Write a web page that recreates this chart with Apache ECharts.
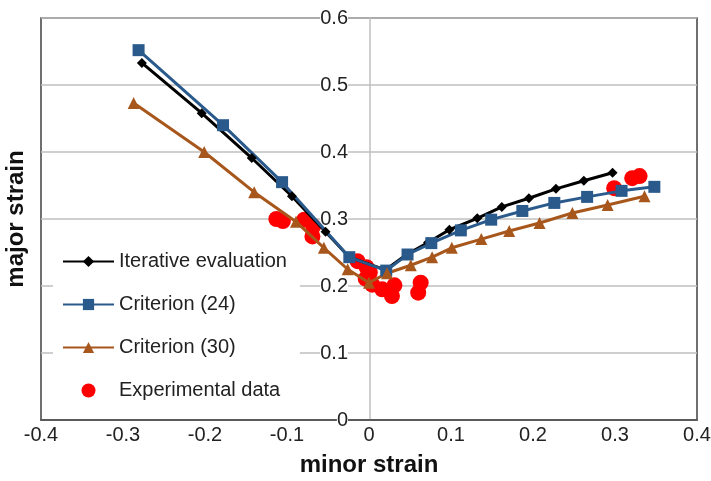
<!DOCTYPE html>
<html>
<head>
<meta charset="utf-8">
<script src="https://cdn.jsdelivr.net/npm/echarts@6/dist/echarts.min.js"></script>
<style>
  html, body { margin: 0; padding: 0; background: #fff; }
  #chart { width: 711px; height: 481px; }
</style>
</head>
<body>
<div id="chart"></div>
<script>
// minor strain / major strain pairs
var iterative = [
  [-0.277, 0.533], [-0.204, 0.458], [-0.143, 0.391], [-0.094, 0.334],
  [-0.053, 0.281], [-0.024, 0.243], [0.020, 0.224], [0.046, 0.247],
  [0.072, 0.265], [0.098, 0.284], [0.132, 0.301], [0.162, 0.318],
  [0.195, 0.331], [0.228, 0.345], [0.262, 0.357], [0.297, 0.369]
];
var criterion24 = [
  [-0.281, 0.552], [-0.178, 0.440], [-0.106, 0.355], [-0.024, 0.243],
  [0.021, 0.223], [0.047, 0.247], [0.076, 0.264], [0.112, 0.283],
  [0.149, 0.299], [0.187, 0.312], [0.226, 0.324], [0.266, 0.333],
  [0.308, 0.342], [0.348, 0.348]
];
var criterion30 = [
  [-0.287, 0.473], [-0.201, 0.400], [-0.140, 0.340], [-0.089, 0.296],
  [-0.055, 0.257], [-0.026, 0.225], [0.000, 0.205], [0.022, 0.219],
  [0.051, 0.231], [0.077, 0.243], [0.101, 0.257], [0.137, 0.270],
  [0.171, 0.282], [0.208, 0.294], [0.248, 0.309], [0.291, 0.321],
  [0.336, 0.334]
];
var experimental = [
  [-0.113, 0.300], [-0.105, 0.297], [-0.079, 0.299], [-0.068, 0.289],
  [-0.069, 0.274], [-0.014, 0.237], [-0.003, 0.228], [0.001, 0.220],
  [-0.004, 0.211], [0.004, 0.202], [0.016, 0.195], [0.031, 0.201],
  [0.028, 0.185], [0.063, 0.205], [0.060, 0.190], [0.299, 0.346],
  [0.321, 0.361], [0.330, 0.364]
];

var font = 'Liberation Sans, Arial, Helvetica, sans-serif';
var chart = echarts.init(document.getElementById('chart'));

function fmt(v) { return v === 0 ? '0' : v.toFixed(1); }

var option = {
  animation: false,
  textStyle: { fontFamily: font },
  grid: {
    left: 41, right: 14, top: 18, bottom: 61,
    containLabel: false,
    outerBoundsMode: 'none',
    show: true, borderColor: '#404040', borderWidth: 1.5, backgroundColor: '#fff'
  },
  legend: {
    orient: 'vertical',
    left: 53, top: 238,
    backgroundColor: '#fff',
    padding: [12, 13, 12, 9],
    itemGap: 20,
    itemWidth: 51,
    itemHeight: 14,
    textStyle: { fontSize: 20, color: '#222', fontFamily: font, lineHeight: 23 },
    data: ['Iterative evaluation', 'Criterion (24)', 'Criterion (30)', 'Experimental data']
  },
  xAxis: {
    type: 'value',
    min: -0.4, max: 0.4, interval: 0.1,
    name: 'minor strain',
    nameLocation: 'middle',
    nameGap: 33,
    nameTextStyle: { fontSize: 24, fontWeight: 'bold', color: '#111' },
    axisLine: { onZero: false, lineStyle: { color: '#404040', width: 1.5 } },
    axisTick: { show: false },
    splitLine: { show: false },
    axisLabel: { fontSize: 20, color: '#222', margin: 5, formatter: fmt }
  },
  yAxis: {
    type: 'value',
    min: 0, max: 0.6, interval: 0.1,
    position: 'left',
    offset: -329,
    name: 'major strain',
    nameLocation: 'middle',
    nameGap: 342,
    nameTextStyle: { fontSize: 24, fontWeight: 'bold', color: '#111' },
    axisLine: { show: true, onZero: false, lineStyle: { color: '#bfbfbf', width: 1.5 } },
    axisTick: { show: false },
    splitLine: { lineStyle: { color: '#bfbfbf', width: 1.5 } },
    axisLabel: {
      fontSize: 20, color: '#222', margin: 22,
      backgroundColor: '#fff',
      formatter: fmt
    }
  },
  series: [
    {
      name: 'Iterative evaluation',
      type: 'line',
      data: iterative,
      symbol: 'diamond',
      symbolSize: 10,
      lineStyle: { color: '#000', width: 3 },
      itemStyle: { color: '#000' }
    },
    {
      name: 'Criterion (24)',
      type: 'line',
      data: criterion24,
      symbol: 'rect',
      symbolSize: 12,
      lineStyle: { color: '#2a5a8c', width: 3 },
      itemStyle: { color: '#2a5a8c' }
    },
    {
      name: 'Criterion (30)',
      type: 'line',
      data: criterion30,
      symbol: 'triangle',
      symbolSize: 12,
      lineStyle: { color: '#a8571c', width: 3 },
      itemStyle: { color: '#a8571c' }
    },
    {
      name: 'Experimental data',
      type: 'scatter',
      data: experimental,
      symbol: 'circle',
      symbolSize: 16,
      itemStyle: { color: '#ff0000', opacity: 1 }
    }
  ]
};
chart.setOption(option);
</script>
</body>
</html>
